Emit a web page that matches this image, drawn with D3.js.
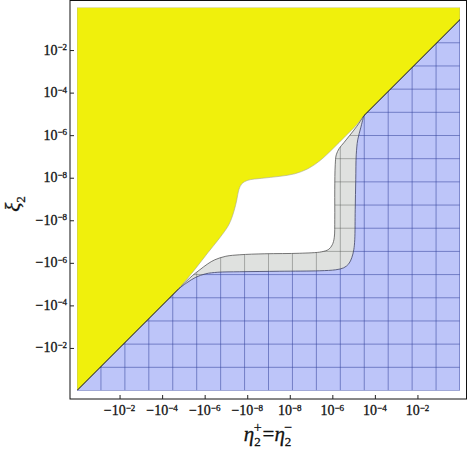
<!DOCTYPE html>
<html>
<head>
<meta charset="utf-8">
<script src="https://cdn.jsdelivr.net/npm/d3@7"></script>
<style>
  html, body { margin: 0; padding: 0; background: #fff; }
  svg { display: block; }
  text { font-family: "Liberation Serif", "DejaVu Serif", serif; fill: #111; stroke: #111; stroke-width: 0.3; }
</style>
</head>
<body>
<script>
// tick values, two decades apart, on both axes
var xTicks = [-1e-2, -1e-4, -1e-6, -1e-8, 1e-8, 1e-6, 1e-4, 1e-2];
var yTicks = [-1e-2, -1e-4, -1e-6, -1e-8, 1e-8, 1e-6, 1e-4, 1e-2];

// points where the curved boundaries leave / rejoin the diagonal edge  [eta, xi]
var junctionLow  = [-1.6e-5, -1.6e-5];
var junctionHigh = [2.99e-5, 8.09e-6];
var upperDiagEnd = [1, 0.27];

// yellow / white boundary
var yellowEdge = [
  [-3.23e-6, -2.36e-6], [-7.10e-7, -3.37e-7], [-1.94e-7, -6.64e-8], [-7.33e-8, -1.63e-8],
  [-4.27e-8, -3.99e-9], [-3.08e-8, -1.09e-9], [-2.48e-8, 2.70e-9], [-1.79e-8, 5.18e-9],
  [-9.38e-9, 7.55e-9], [-2.07e-9, 9.38e-9], [3.40e-9, 1.16e-8], [1.72e-8, 1.53e-8],
  [7.02e-8, 2.62e-8], [2.57e-7, 6.22e-8], [1.05e-6, 2.28e-7], [4.28e-6, 9.31e-7],
  [1.26e-5, 2.74e-6]
];

// white / gray boundary
var grayEdge = [
  [-7.66e-6, -7.74e-6], [-3.60e-6, -3.84e-6], [-1.69e-6, -2.12e-6], [-7.10e-7, -1.11e-6],
  [-3.33e-7, -7.18e-7], [-1.01e-7, -4.91e-7], [-2.23e-8, -4.18e-7], [-1.49e-9, -3.75e-7],
  [2.95e-8, -3.55e-7], [3.19e-7, -3.02e-7], [6.79e-7, -2.31e-7], [9.93e-7, -1.42e-7],
  [1.23e-6, -6.64e-8], [1.30e-6, -9.48e-9], [1.30e-6, 2.70e-9], [1.37e-6, 4.04e-8],
  [1.53e-6, 1.19e-7], [2.12e-6, 2.40e-7], [3.44e-6, 4.37e-7], [6.59e-6, 9.82e-7],
  [1.41e-5, 2.60e-6]
];

// gray / blue boundary
var blueEdge = [
  [-6.87e-6, -8.63e-6], [-2.60e-6, -4.76e-6], [-8.81e-7, -3.26e-6], [-2.40e-7, -2.77e-6],
  [-2.23e-8, -2.62e-6], [3.40e-9, -2.49e-6], [2.57e-7, -2.36e-6], [1.45e-6, -2.12e-6],
  [3.44e-6, -1.71e-6], [5.92e-6, -1.11e-6], [8.18e-6, -5.78e-7], [1.02e-5, -2.43e-7],
  [1.13e-5, -8.24e-8], [1.19e-5, -3.21e-9], [1.26e-5, 7.98e-9], [1.33e-5, 1.19e-7],
  [1.56e-5, 6.04e-7], [2.16e-5, 2.21e-6]
];

var W = 469, H = 450;
var svg = d3.select('body').append('svg').attr('width', W).attr('height', H);

// signed log axis: +-1e-9 sits in the middle, +-1 at the edges
function tr(v) { return Math.sign(v) * (Math.log10(Math.abs(v)) + 9); }
var x = d3.scaleLinear().domain([-9, 9]).range([77, 460]);
var y = d3.scaleLinear().domain([-9, 9]).range([390.5, 7.5]);
function X(p) { return x(tr(p[0])); }
function Y(p) { return y(tr(p[1])); }

var smooth = d3.line().x(X).y(Y).curve(d3.curveCatmullRom.alpha(0.5));
function straight(list) {
  return list.map(function(p) { return 'L' + X(p) + ',' + Y(p); }).join('');
}

var yellowPts = [junctionLow].concat(yellowEdge, [junctionHigh]);
var grayPts   = [junctionLow].concat(grayEdge, [junctionHigh]);
var bluePts   = [junctionLow].concat(blueEdge, [junctionHigh]);

var yellowPath = smooth(yellowPts) + straight([upperDiagEnd, [1, 1], [-1, 1], [-1, -1]]) + 'Z';
var bluePath   = smooth(bluePts) + straight([upperDiagEnd, [1, -1], [-1, -1]]) + 'Z';
var grayPath   = smooth(grayPts) + smooth(bluePts.slice().reverse()).replace(/^M/, 'L') + 'Z';

var defs = svg.append('defs');
defs.append('clipPath').attr('id', 'blueClip').append('path').attr('d', bluePath);
defs.append('clipPath').attr('id', 'grayClip').append('path').attr('d', grayPath);
defs.append('clipPath').attr('id', 'plotClip').append('rect')
  .attr('x', x(-9)).attr('y', y(9)).attr('width', x(9) - x(-9)).attr('height', y(-9) - y(9));

var plot = svg.append('g').attr('clip-path', 'url(#plotClip)');

//Filled regions
plot.append('path').attr('d', bluePath).attr('fill', '#bdc5f9');
plot.append('path').attr('d', grayPath).attr('fill', '#dfe1df');
plot.append('path').attr('d', yellowPath).attr('fill', '#f0f00c')
  .attr('stroke', '#a8a890').attr('stroke-width', 0.6);

//Mesh: 16 divisions over each region's extent
var meshX = d3.range(1, 16).map(function(k) { return -9 + k * 18 / 16; });
var topU = tr(upperDiagEnd[1]);
var meshY = d3.range(1, 16).map(function(k) { return -9 + k * (topU + 9) / 16; });

function mesh(clip, color, opacity, width) {
  var g = plot.append('g').attr('clip-path', 'url(#' + clip + ')')
    .attr('stroke', color).attr('stroke-opacity', opacity).attr('stroke-width', width);
  g.selectAll('line.v').data(meshX).enter().append('line')
    .attr('x1', x).attr('x2', x).attr('y1', y(9)).attr('y2', y(-9));
  g.selectAll('line.h').data(meshY).enter().append('line')
    .attr('y1', y).attr('y2', y).attr('x1', x(-9)).attr('x2', x(9));
}
mesh('blueClip', '#34449c', 0.55, 1);
mesh('grayClip', '#4a4e4c', 0.5, 0.8);

//Region outlines
plot.append('path').attr('d', smooth(grayPts)).attr('fill', 'none')
  .attr('stroke', '#555').attr('stroke-width', 0.8);
plot.append('path').attr('d', smooth(bluePts)).attr('fill', 'none')
  .attr('stroke', '#3a3f66').attr('stroke-width', 0.8);
plot.append('path').attr('d', 'M' + x(9) + ',' + Y(upperDiagEnd) + 'L' + x(9) + ',' + y(-9) + 'L' + x(-9) + ',' + y(-9))
  .attr('fill', 'none').attr('stroke', '#5563b0').attr('stroke-width', 1.2);

//Diagonal edges
var diag = d3.line().x(X).y(Y);
plot.append('path').attr('d', diag([[-1, -1], junctionLow])).attr('fill', 'none')
  .attr('stroke', '#111').attr('stroke-width', 1);
plot.append('path').attr('d', diag([junctionHigh, upperDiagEnd])).attr('fill', 'none')
  .attr('stroke', '#111').attr('stroke-width', 1);

//Frame
svg.append('rect').attr('x', 70).attr('y', 0.5).attr('width', 396.5).attr('height', 398.5)
  .attr('fill', 'none').attr('stroke', '#111').attr('stroke-width', 1);

//Axes (ticks only, labels written with superscripts below)
var xAxis = d3.axisBottom(x).tickValues(xTicks.map(tr)).tickSize(-4).tickFormat('');
svg.append('g').attr('transform', 'translate(0,399)').attr('color', '#222').call(xAxis)
  .call(function(g) { g.select('.domain').remove(); });
var yAxis = d3.axisLeft(y).tickValues(yTicks.map(tr)).tickSize(-4).tickFormat('');
svg.append('g').attr('transform', 'translate(70,0)').attr('color', '#222').call(yAxis)
  .call(function(g) { g.select('.domain').remove(); });

function powLabel(sel, v) {
  sel.append('tspan').text((v < 0 ? '\u2212' : '') + '10');
  sel.append('tspan').attr('dy', -4.5).attr('font-size', 9)
    .text('\u2212' + Math.abs(Math.round(Math.log10(Math.abs(v)))));
}

svg.append('g').selectAll('text').data(xTicks).enter().append('text')
  .attr('x', function(d) { return x(tr(d)); }).attr('y', 415)
  .attr('text-anchor', 'middle').attr('font-size', 14)
  .each(function(d) { powLabel(d3.select(this), d); });

svg.append('g').selectAll('text').data(yTicks).enter().append('text')
  .attr('x', 67).attr('y', function(d) { return y(tr(d)) + 4.5; })
  .attr('text-anchor', 'end').attr('font-size', 14)
  .each(function(d) { powLabel(d3.select(this), d); });

//Axis titles
var xt = svg.append('text').attr('x', 268).attr('y', 441).attr('text-anchor', 'middle').attr('font-size', 21);
xt.append('tspan').attr('font-style', 'italic').text('\u03b7');
xt.append('tspan').attr('font-size', 13).attr('dy', 5).text('2');
xt.append('tspan').attr('font-size', 14).attr('dx', -7).attr('dy', -14).text('+');
xt.append('tspan').attr('dy', 9).attr('dx', 1).text('=');
xt.append('tspan').attr('font-style', 'italic').text('\u03b7');
xt.append('tspan').attr('font-size', 13).attr('dy', 5).text('2');
xt.append('tspan').attr('font-size', 14).attr('dx', -7).attr('dy', -14).text('\u2212');

var yt = svg.append('text').attr('transform', 'translate(20,204) rotate(-90)')
  .attr('text-anchor', 'middle').attr('font-size', 21);
yt.append('tspan').attr('font-style', 'italic').text('\u03be');
yt.append('tspan').attr('font-size', 13).attr('dy', 5).text('2');
</script>
</body>
</html>
